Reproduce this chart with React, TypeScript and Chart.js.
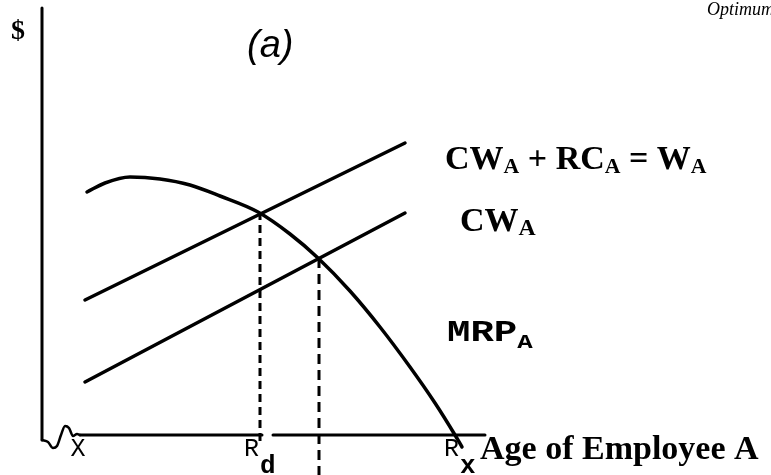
import React, { useEffect, useRef } from "react";
import { Chart, registerables } from "chart.js";
Chart.register(...registerables);

// Data space: x = age units, y = dollar units (origin at the axes' corner)
const vAxisX = [0, 0];
const vAxisY = [85.4, -1];
const squiggleX = [0, 1.2, 2.2, 3, 3.8, 4.6, 5.4, 6.2, 7, 7.6];
const squiggleY = [-1, -1.4, -2.6, -2.2, 0, 1.8, 1.4, -0.2, 0.2, 0];
const hAxisLeftX = [7.6, 44];
const hAxisRightX = [46.2, 88.6];
const hAxisY = [0, 0];

const totalWageX = [8.6, 72.6]; // CW_A + RC_A = W_A
const totalWageY = [27, 58.4];
const cwX = [8.6, 72.6]; // CW_A
const cwY = [10.6, 44.4];

const mrpX = [9, 12.6, 17.6, 23.6, 29.6, 35.6, 43.2, 49.6, 55.2, 61.6, 67.6, 73.6, 78.6, 82.6, 84];
const mrpY = [48.6, 50.4, 51.6, 51.2, 50, 47.8, 44.6, 40.2, 35.4, 28.8, 21.6, 13.6, 6.4, 0, -2.4];

const rdX = [43.6, 43.6];
const rdY = [44.6, -1.2];
const optX = [55.4, 55.4];
const optY = [35.4, -8];

const tickPos = [7.2, 43.6, 83.6];
const tickMain = ["X", "R", "R"];
const tickSub = ["", "d", "x"];

const pts = (xs: number[], ys: number[]) => xs.map((x, i) => ({ x, y: ys[i] }));

function drawParts(
  ctx: CanvasRenderingContext2D,
  parts: [string, boolean][],
  x: number,
  y: number,
  size: number,
  family: string,
  weight: string,
  subScale = 0.64,
  subDrop = 0.12
) {
  let cx = x;
  for (const [t, sub] of parts) {
    const s = sub ? size * subScale : size;
    ctx.font = `${weight} ${s}px ${family}`;
    ctx.fillText(t, cx, sub ? y + size * subDrop : y);
    cx += ctx.measureText(t).width;
  }
}

const SERIF = '"Liberation Serif", "Times New Roman", serif';
const MONO = '"Liberation Mono", "Courier New", monospace';
const SANS = '"Liberation Sans", Arial, sans-serif';

const labelPlugin = {
  id: "labels",
  afterDraw(chart: any) {
    const ctx: CanvasRenderingContext2D = chart.ctx;
    const xs = chart.scales.x;
    const ys = chart.scales.y;
    ctx.save();
    ctx.fillStyle = "#000";
    ctx.textBaseline = "alphabetic";
    ctx.textAlign = "left";

    ctx.font = `bold 28px ${SERIF}`;
    ctx.fillText("$", 11, 39);

    ctx.font = `italic 38px ${SANS}`;
    ctx.fillText("(a)", 247, 57);

    ctx.font = `italic 18px ${SERIF}`;
    ctx.fillText("Optimum Retirement Age", 707, 15);

    const endX = xs.getPixelForValue(totalWageX[1]);
    drawParts(ctx, [["CW", false], ["A", true], [" + RC", false], ["A", true], [" = W", false], ["A", true]],
      endX + 40, ys.getPixelForValue(totalWageY[1]) + 26, 34, SERIF, "bold");
    drawParts(ctx, [["CW", false], ["A", true]], endX + 55, ys.getPixelForValue(cwY[1]) + 18, 34, SERIF, "bold", 0.7);

    // MRP_A in a wide typewriter style
    ctx.save();
    ctx.translate(endX + 42, 341);
    ctx.scale(1.3, 1);
    drawParts(ctx, [["MRP", false], ["A", true]], 0, 0, 30, MONO, "bold", 0.66, 0.22);
    ctx.restore();

    ctx.font = `bold 34px ${SERIF}`;
    ctx.fillText("Age of Employee A", 480, 459);

    const base = ys.getPixelForValue(0);
    for (let i = 0; i < tickPos.length; i++) {
      const px = xs.getPixelForValue(tickPos[i]);
      ctx.font = `25px ${MONO}`;
      const w = ctx.measureText(tickMain[i]).width;
      const left = tickSub[i] ? px - w - 1 : px - w / 2;
      ctx.fillText(tickMain[i], left, base + 21);
      if (tickSub[i]) {
        ctx.font = `bold 26px ${MONO}`;
        ctx.fillText(tickSub[i], left + w + 1, base + 38);
      }
    }
    ctx.restore();
  },
};

export default function App() {
  const ref = useRef<HTMLCanvasElement | null>(null);
  useEffect(() => {
    document.body.style.margin = "0";
    const line = (xs: number[], ys: number[], width: number, dash: number[] = [], smooth = false) => ({
      data: pts(xs, ys),
      showLine: true,
      borderColor: "#000",
      backgroundColor: "#000",
      borderWidth: width,
      borderDash: dash,
      pointRadius: 0,
      tension: smooth ? 0.4 : 0,
      cubicInterpolationMode: smooth ? ("monotone" as const) : ("default" as const),
      borderCapStyle: "round" as const,
      borderJoinStyle: "round" as const,
      fill: false,
    });
    const chart = new Chart(ref.current as HTMLCanvasElement, {
      type: "scatter",
      data: {
        datasets: [
          line(vAxisX, vAxisY, 3),
          line(squiggleX, squiggleY, 2.5, [], true),
          line(hAxisLeftX, hAxisY, 3),
          line(hAxisRightX, hAxisY, 3),
          line(totalWageX, totalWageY, 3.5),
          line(cwX, cwY, 3.5),
          line(mrpX, mrpY, 3.5, [], true),
          { ...line(rdX, rdY, 3, [8, 5]), borderCapStyle: "butt" as const },
          { ...line(optX, optY, 3, [10, 6]), borderCapStyle: "butt" as const },
        ],
      },
      options: {
        animation: false,
        responsive: false,
        layout: { padding: 0 },
        plugins: { legend: { display: false }, tooltip: { enabled: false } },
        scales: {
          x: { type: "linear", min: -8.4, max: 145.8, display: false },
          y: { type: "linear", min: -8, max: 87, display: false },
        },
      },
      plugins: [labelPlugin],
    });
    return () => chart.destroy();
  }, []);
  return (
    <div style={{ position: "fixed", left: 0, top: 0, width: 771, height: 475, background: "#fff" }}>
      <canvas ref={ref} width={771} height={475} />
    </div>
  );
}
